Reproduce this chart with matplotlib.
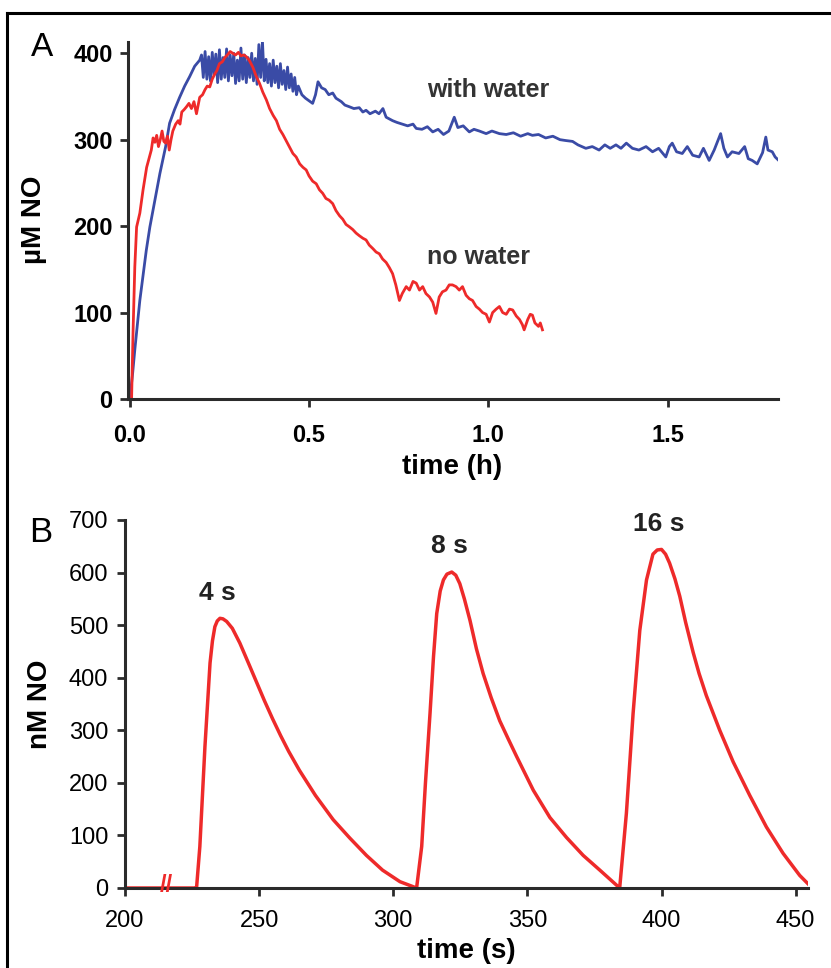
import matplotlib.pyplot as plt
from matplotlib.lines import Line2D

plt.rcParams['font.family'] = ['Liberation Sans', 'DejaVu Sans']

# panel A: NO release over hours (uM)
t_water = [0.0, 0.008, 0.014, 0.028, 0.046, 0.056, 0.07, 0.084, 0.1, 0.111, 0.125, 0.139, 0.153, 0.167, 0.181, 0.195,
           0.200, 0.205, 0.210, 0.215, 0.220, 0.225, 0.230, 0.235, 0.240, 0.245, 0.250, 0.255, 0.260, 0.265, 0.270,
           0.275, 0.280, 0.285, 0.290, 0.295, 0.300, 0.305, 0.310, 0.315, 0.320, 0.325, 0.330, 0.335, 0.340, 0.345,
           0.350, 0.355, 0.360, 0.365, 0.370, 0.375, 0.380, 0.385, 0.390, 0.395, 0.400, 0.405, 0.410, 0.415, 0.420,
           0.425, 0.430, 0.435, 0.440, 0.445, 0.450, 0.455, 0.460, 0.465, 0.470,
           0.480, 0.490, 0.500, 0.510, 0.518, 0.525, 0.535, 0.545, 0.555, 0.566, 0.575, 0.590, 0.600, 0.613, 0.625,
           0.640, 0.650, 0.659, 0.670, 0.685, 0.695, 0.706, 0.715, 0.733, 0.745, 0.760, 0.775, 0.790, 0.799, 0.815,
           0.830, 0.845, 0.860, 0.875, 0.890, 0.905, 0.915, 0.930, 0.947, 0.960, 0.975, 0.994, 1.010, 1.031, 1.050,
           1.070, 1.090, 1.110, 1.123, 1.140, 1.160, 1.180, 1.200, 1.216, 1.235, 1.250, 1.272, 1.290, 1.309, 1.325,
           1.340, 1.356, 1.370, 1.385, 1.402, 1.420, 1.440, 1.458, 1.475, 1.495, 1.505, 1.513, 1.525, 1.541, 1.555,
           1.570, 1.588, 1.600, 1.616, 1.630, 1.648, 1.657, 1.667, 1.680, 1.699, 1.715, 1.725, 1.736, 1.750, 1.765,
           1.774, 1.780, 1.792, 1.800, 1.810]
v_water = [0, 30, 57, 114, 172, 199, 230, 261, 292, 319, 335, 349, 362, 373, 385, 392,
           398, 372, 402, 370, 396, 368, 401, 375, 399, 366, 404, 370, 395, 372, 405,
           368, 398, 374, 400, 365, 392, 368, 406, 370, 398, 366, 395, 372, 400, 368,
           394, 364, 410, 372, 414, 368, 393, 366, 388, 362, 392, 366, 385, 360, 388,
           364, 380, 358, 384, 360, 376, 356, 372, 352, 362,
           352, 348, 345, 342, 352, 367, 360, 358, 352, 354, 348, 344, 340, 338, 336,
           337, 332, 334, 330, 333, 330, 336, 326, 322, 320, 318, 316, 318, 313, 312,
           315, 309, 312, 306, 310, 326, 314, 316, 309, 312, 310, 307, 310, 307, 306,
           308, 304, 307, 305, 306, 302, 304, 300, 299, 298, 294, 290, 292, 288, 294,
           290, 294, 290, 296, 290, 288, 292, 286, 290, 280, 292, 296, 286, 284, 292,
           282, 280, 290, 276, 288, 307, 290, 280, 286, 284, 292, 278, 276, 272, 285,
           303, 288, 286, 280, 276]

t_dry = [0.005, 0.009, 0.014, 0.019, 0.028, 0.037, 0.047, 0.06, 0.065, 0.07, 0.075, 0.08, 0.085, 0.09, 0.095, 0.1,
         0.105, 0.11, 0.115, 0.12, 0.128, 0.135, 0.14, 0.145, 0.152, 0.158, 0.165, 0.172, 0.179, 0.186, 0.195, 0.203,
         0.21, 0.216, 0.223, 0.23, 0.237, 0.243, 0.25, 0.258, 0.265, 0.272, 0.28, 0.287, 0.295, 0.303, 0.31, 0.318,
         0.325, 0.333, 0.343, 0.352, 0.362, 0.371, 0.381, 0.39, 0.4, 0.409, 0.418, 0.427, 0.436, 0.445, 0.455, 0.464,
         0.474, 0.483, 0.492, 0.5, 0.51, 0.52, 0.529, 0.538, 0.547, 0.556, 0.566, 0.575, 0.585, 0.594, 0.603, 0.613,
         0.622, 0.631, 0.64, 0.65, 0.659, 0.668, 0.678, 0.687, 0.696, 0.705, 0.715, 0.724, 0.733, 0.742, 0.752, 0.76,
         0.771, 0.78, 0.79, 0.799, 0.808, 0.817, 0.826, 0.836, 0.845, 0.854, 0.863, 0.872, 0.882, 0.891, 0.9, 0.91,
         0.919, 0.928, 0.938, 0.947, 0.956, 0.966, 0.975, 0.984, 0.994, 1.003, 1.012, 1.022, 1.031, 1.04, 1.05,
         1.059, 1.068, 1.078, 1.087, 1.095, 1.1, 1.11, 1.117, 1.123, 1.13, 1.14, 1.145, 1.151]
v_dry = [0, 76, 153, 199, 215, 242, 268, 288, 302, 297, 305, 292, 300, 310, 298, 296,
         304, 288, 300, 310, 318, 322, 318, 332, 335, 338, 342, 336, 344, 330, 349, 352,
         358, 362, 361, 370, 376, 380, 388, 390, 395, 398, 402, 400, 398, 401, 397, 398,
         396, 392, 384, 374, 365, 355, 346, 336, 328, 322, 312, 306, 299, 292, 284, 280,
         272, 268, 265, 258, 252, 249, 242, 238, 232, 230, 226, 218, 212, 208, 202, 199,
         196, 192, 189, 186, 184, 178, 174, 170, 168, 162, 158, 152, 145, 132, 114, 122,
         130, 126, 136, 134, 126, 130, 122, 118, 112, 99, 118, 124, 126, 132, 132, 130,
         126, 130, 120, 116, 114, 107, 104, 100, 98, 89, 100, 104, 107, 100, 98,
         104, 103, 96, 92, 86, 80, 92, 98, 97, 88, 84, 88, 80]

# panel B: NO pulses (nM)
t_pulse = [200, 213, 218, 226, 226.7, 227.9, 229.8, 231.7, 232.6, 233.5, 234.4, 235.4, 236.5, 237.9, 240, 242.8,
           246, 249, 252, 255, 258, 261, 265, 271, 277.6, 283.8, 290, 296, 302.5, 308.7,
           310.6, 312, 313.7, 315, 316.2, 317.5, 318.7, 320, 321.8, 323.3, 324.8, 326.5, 328.6, 331, 333.5, 336.5,
           339.7, 343, 346, 352.2, 358.4, 364.6, 370.8, 377, 384.4,
           386.9, 389.4, 391.9, 394.4, 396.8, 398.4, 400, 401.5, 403, 405, 406.8, 409, 411.8, 414, 416.7, 421.7,
           426.7, 432.9, 439.1, 445.3, 451.5, 454.6]
v_pulse = [0, 0, 0, 0, 2, 79, 269, 428, 470, 497, 508, 513, 512, 507, 494, 466,
           428, 392, 356, 322, 290, 260, 224, 176, 130, 95, 62, 34, 12, 0,
           79, 200, 332, 440, 522, 565, 586, 597, 601, 595, 579, 550, 509, 455, 408, 362,
           318, 282, 250, 186, 134, 96, 62, 34, 0,
           142, 332, 490, 586, 635, 643, 644, 635, 618, 588, 555, 505, 448, 408, 366, 300,
           240, 176, 116, 66, 24, 8]
pulse_labels = ['4 s', '8 s', '16 s']

W, H = 831, 968
fig = plt.figure(figsize=(W / 100, H / 100), dpi=100)

RED = '#ee2a2a'
BLUE = '#3a4ba6'
AX = '#2b2b2b'


def style(ax):
    for s in ['top', 'right']:
        ax.spines[s].set_visible(False)
    for s in ['left', 'bottom']:
        ax.spines[s].set_linewidth(2.2)
        ax.spines[s].set_color(AX)
    ax.tick_params(direction='out', length=6, width=2, color=AX, labelsize=17)


# panel A
axA = fig.add_axes([128 / W, 1 - 399 / H, 650 / W, 357 / H])
axA.plot(t_water, v_water, color=BLUE, lw=2.0)
axA.plot(t_dry, v_dry, color=RED, lw=2.0)
axA.set_xlim(-0.005, 1.808)
axA.set_ylim(0, 413)
axA.set_xticks([0.0, 0.5, 1.0, 1.5])
axA.set_xticklabels(['0.0', '0.5', '1.0', '1.5'])
axA.set_yticks([0, 100, 200, 300, 400])
style(axA)
axA.tick_params(axis='x', pad=12)
axA.tick_params(axis='y', pad=5)
for lab in axA.get_xticklabels() + axA.get_yticklabels():
    lab.set_fontweight('bold')
axA.text(0.83, 358, 'with water', fontsize=18, fontweight='bold', color='#333', va='center')
axA.text(0.83, 164, 'no water', fontsize=18, fontweight='bold', color='#333', va='center')

# panel B
axB = fig.add_axes([125 / W, 1 - 888 / H, 683 / W, 368 / H])
axB.plot(t_pulse, v_pulse, color=RED, lw=2.5)
axB.set_xlim(200, 454.6)
axB.set_ylim(0, 700)
axB.set_xticks([200, 250, 300, 350, 400, 450])
axB.set_yticks(range(0, 701, 100))
style(axB)
axB.tick_params(axis='x', pad=10)
axB.tick_params(axis='y', pad=6)
# break marks on the baseline
axB.text(215.5, 5, '//', color=RED, fontsize=17, ha='center', va='center', fontweight='bold')
peaks = [(235.4, 513), (321.8, 601), (400, 644)]
for (px, py), lab in zip(peaks, pulse_labels):
    axB.text(px - 1, py + 26, lab, fontsize=19, fontweight='bold', ha='center', va='bottom', color='#222')

# labels
fig.text(452 / W, 1 - 467 / H, 'time (h)', fontsize=20, fontweight='bold', ha='center', va='center')
fig.text(34 / W, 1 - 220 / H, 'µM NO', fontsize=20, fontweight='bold', ha='center', va='center', rotation=90)
fig.text(466 / W, 1 - 951 / H, 'time (s)', fontsize=20, fontweight='bold', ha='center', va='center')
fig.text(40 / W, 1 - 704 / H, 'nM NO', fontsize=20, fontweight='bold', ha='center', va='center', rotation=90)
fig.text(42 / W, 1 - 47 / H, 'A', fontsize=24, ha='center', va='center')
fig.text(41 / W, 1 - 532 / H, 'B', fontsize=25, ha='center', va='center')

# frame lines (left and top)
fig.add_artist(Line2D([7 / W, 7 / W], [0, 1 - 13 / H], color='black', lw=2.2, transform=fig.transFigure))
fig.add_artist(Line2D([7 / W, 1], [1 - 13 / H, 1 - 13 / H], color='black', lw=2.2, transform=fig.transFigure))

fig.savefig('out.png', dpi=100)
